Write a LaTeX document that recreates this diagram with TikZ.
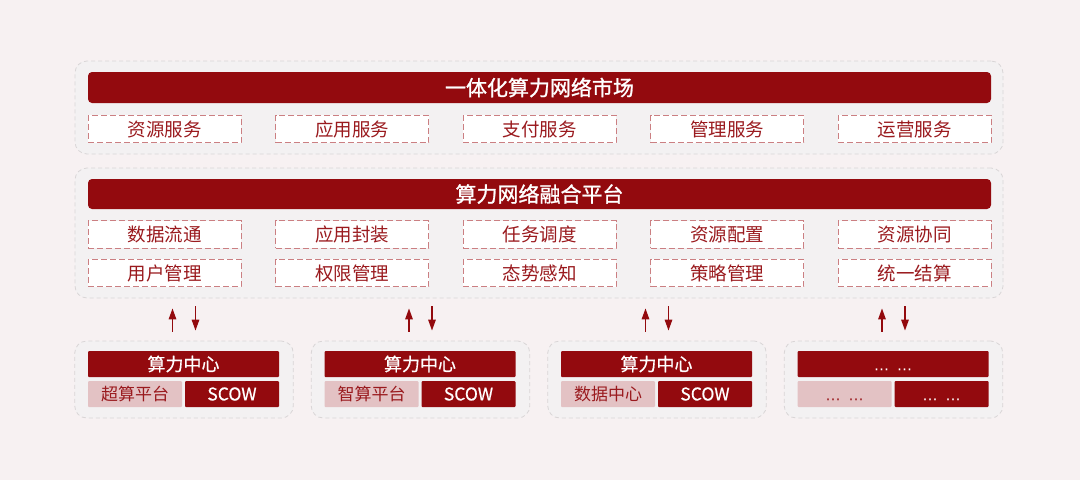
\documentclass[tikz,border=0pt]{standalone}
\usepackage{fontspec}
\setmainfont{Noto Sans CJK SC}
\newfontfamily\titlefont[FakeBold=1.2]{Noto Sans CJK SC}
\newfontfamily\headfont[FakeBold=0.6]{Noto Sans CJK SC}
\newfontfamily\dotfont{DejaVu Sans}
\usetikzlibrary{arrows.meta}
\definecolor{bgpink}{HTML}{F7F1F2}
\definecolor{panelgray}{HTML}{F3F1F2}
\definecolor{panelline}{HTML}{D9D5D6}
\definecolor{darkred}{HTML}{930A0E}
\definecolor{textred}{HTML}{9A1A1E}
\definecolor{boxline}{HTML}{CB7F82}
\definecolor{lightpink}{HTML}{E3C2C4}
\newcommand{\dotpair}{\raisebox{-10pt}[0pt][0pt]{\dotfont\fontsize{15}{15}\selectfont ⋯\hspace{8pt}⋯}}
\tikzset{
  panel/.style={draw=panelline, fill=panelgray, line width=0.8pt,
                dash pattern=on 4pt off 3pt, rounded corners=12pt},
  titlebar/.style={fill=darkred, text=white, rounded corners=4pt, inner sep=0pt,
                   minimum width=903pt, font=\titlefont\fontsize{21}{21}\selectfont},
  servbox/.style={draw=boxline, fill=white, line width=0.9pt, dash pattern=on 6pt off 3pt,
                  text=textred, inner sep=0pt, minimum width=153pt, minimum height=27.5pt,
                  font=\fontsize{18.5}{18.5}\selectfont},
  headbar/.style={fill=darkred, text=white, inner sep=0pt, rounded corners=1pt,
                  minimum width=191pt, minimum height=26pt, font=\headfont\fontsize{18}{18}\selectfont},
  platbox/.style={fill=lightpink, text=textred, inner sep=0pt, rounded corners=1pt,
                  minimum width=94pt, minimum height=26pt, font=\fontsize{17}{17}\selectfont},
  scowbox/.style={fill=darkred, text=white, inner sep=0pt, rounded corners=1pt,
                  minimum width=94pt, minimum height=26pt, font=\headfont\fontsize{17.5}{17.5}\selectfont},
  flow/.style={draw=darkred, line width=1.4pt, -{Triangle[width=7.5pt,length=11pt]}}
}
\begin{document}
\begin{tikzpicture}[x=1pt,y=-1pt]
  \fill[bgpink] (0,0) rectangle (1080,480);
  \useasboundingbox (0,0) rectangle (1080,480);
  % market layer
  \node[panel, minimum width=928pt, minimum height=93pt] (market) at (539,107.5) {};
  \node[titlebar, minimum height=31pt] (mkttitle) at (539.5,87.5) {一体化算力网络市场};
  \foreach \i/\name in {0/资源服务,1/应用服务,2/支付服务,3/管理服务,4/运营服务}
  {
    \node[servbox] (serv\i) at (164.5+187.5*\i,129) {\name};
  }
  % platform layer
  \node[panel, minimum width=928pt, minimum height=130pt] (plat) at (539,233) {};
  \node[titlebar, minimum height=30pt] (plattitle) at (539.5,194) {算力网络融合平台};
  \foreach \i/\top/\bot in {0/数据流通/用户管理,1/应用封装/权限管理,2/任务调度/态势感知,
                            3/资源配置/策略管理,4/资源协同/统一结算}
  {
    \node[servbox] (fa\i) at (164.5+187.5*\i,234.5) {\top};
    \node[servbox] (fb\i) at (164.5+187.5*\i,273) {\bot};
  }
  % computing centers
  \foreach \i/\head/\lt/\rt in {0/算力中心/超算平台/SCOW,1/算力中心/智算平台/SCOW,
                                2/算力中心/数据中心/SCOW,3/\dotpair/\dotpair/\dotpair}
  {
    \node[panel, minimum width=218.5pt, minimum height=77pt] (cen\i) at (184+236.5*\i,379.5) {};
    \node[headbar] (head\i) at (183.5+236.5*\i,364) {\head};
    \node[platbox] (lo\i) at (135+236.5*\i,394) {\lt};
    \node[scowbox] (sc\i) at (232+236.5*\i,394) {\rt};
    \draw[flow] ([xshift=-11.5pt,yshift=9pt]cen\i.north) -- ([xshift=-11.5pt,yshift=-10pt]cen\i.north |- plat.south);
    \draw[flow] ([xshift=11.5pt,yshift=-8pt]cen\i.north |- plat.south) -- ([xshift=11.5pt,yshift=10pt]cen\i.north);
  }
\end{tikzpicture}
\end{document}
